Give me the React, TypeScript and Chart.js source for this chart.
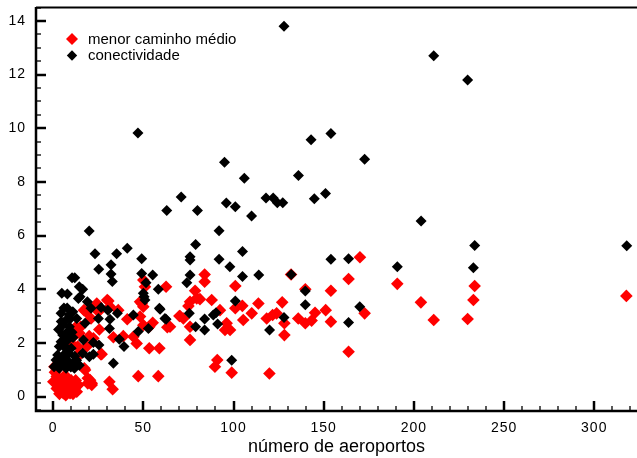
import { useEffect, useRef } from "react";
import { Chart, registerables } from "chart.js";

Chart.register(...registerables);

const FONT = "'Liberation Sans', Arial, Helvetica, sans-serif";

// [número de aeroportos, conectividade]
const conectividade: [number, number][] = [
  [128, 13.8], [211, 12.7], [229.8, 11.8], [154, 9.8], [143, 9.57], [172.7, 8.84],
  [47, 9.82], [95, 8.73], [106, 8.14], [136, 8.24], [71, 7.44], [63, 6.93],
  [80, 6.93], [96, 7.21], [101, 7.07], [110, 6.73], [118, 7.4], [122, 7.4],
  [124.3, 7.22], [127.3, 7.22], [144.8, 7.37], [151, 7.57], [92, 6.18], [204, 6.54],
  [233.7, 5.63], [318, 5.62], [105, 5.41], [92, 5.12], [98, 4.84], [154, 5.12],
  [163.8, 5.14], [190.8, 4.84], [233, 4.8], [105, 4.47], [114, 4.53], [132, 4.55],
  [139.8, 3.93], [139.8, 3.42], [101, 3.56], [170, 3.35], [128, 2.95], [84, 2.89],
  [84, 2.48], [88.8, 3.04], [90.3, 3.12], [91.2, 2.7], [120, 2.48], [163.8, 2.76],
  [99, 1.35], [20, 6.17], [79, 5.67], [23.2, 5.32], [35.2, 5.32], [41.1, 5.53],
  [49.1, 5.14], [75.9, 5.21], [75.9, 5.09], [32.1, 4.91], [25.3, 4.74], [32.1, 4.57],
  [32.8, 4.29], [10.5, 4.43], [12, 4.43], [49.1, 4.59], [55.2, 4.53], [51.5, 4.24],
  [75.9, 4.53], [74.1, 4.24], [14.5, 4.09], [16.4, 4.0], [58.3, 4.0], [4.8, 3.85],
  [7.9, 3.82], [14.9, 3.72], [50, 3.85], [50.4, 3.72], [14, 3.65], [19, 3.53],
  [21, 3.29], [26.6, 3.32], [30.3, 3.22], [35.6, 3.1], [25.1, 2.91], [31.5, 2.88],
  [10.9, 3.16], [13.1, 2.91], [17.7, 2.73], [31.2, 2.54], [36.7, 2.13], [39.3, 1.86],
  [16.8, 2.11], [22.3, 2.01], [25.4, 1.92], [20.1, 1.48], [22.3, 1.58], [33.4, 1.24],
  [50.9, 3.6], [58.9, 3.29], [62, 2.91], [47.2, 2.42], [44.5, 3.04], [75.5, 3.1],
  [79, 2.6], [59.3, 3.25], [62.6, 2.88], [52.8, 2.54],
  [4.4, 3.1], [9, 3.04], [7.2, 2.85], [5.3, 2.66], [9, 2.6], [8.1, 2.42],
  [5.3, 2.29], [4.4, 2.04], [8.1, 2.11], [3.4, 1.86], [6.5, 1.86], [2.5, 1.55],
  [5.8, 1.55], [8.7, 1.6], [1.6, 1.36], [5.3, 1.3], [8.7, 1.3], [11.7, 1.3],
  [14.5, 1.17], [0.5, 1.11], [3.4, 1.05], [7.2, 1.05], [11.8, 1.05], [16.4, 1.61],
  [6, 3.3], [10, 1.8], [12, 1.5], [7, 2.3], [10.5, 2.4], [6.5, 1.2], [9.5, 2.9], [11, 2.2],
  [2, 1.2], [4, 1.4], [6.5, 1.5], [3, 2.5], [6.2, 2.1], [7.5, 1.75], [9.8, 1.1],
  [13, 1.35], [4.5, 2.8], [7.8, 3.3],
];

// [número de aeroportos, menor caminho médio]
const menorCaminho: [number, number][] = [
  [170.1, 5.19], [84, 4.55], [84, 4.28], [131.9, 4.55], [163.8, 4.38], [190.8, 4.2],
  [233.7, 4.12], [317.8, 3.75], [101, 4.12], [139.8, 4.0], [154, 3.94], [233, 3.6],
  [203.9, 3.51], [81.4, 3.63], [87.9, 3.6], [127, 3.51], [113.8, 3.47], [104.9, 3.38],
  [101, 3.29], [92.5, 3.22], [110.1, 3.1], [105.4, 2.85], [151.1, 3.22], [145.2, 3.12],
  [172.7, 3.1], [118.4, 2.91], [121.7, 3.04], [123.9, 3.1], [135.9, 2.91], [139.8, 2.73],
  [143.3, 2.83], [128.2, 2.73], [154, 2.79], [211, 2.85], [229.8, 2.89], [96.2, 2.73],
  [95.3, 2.48], [98.1, 2.48], [128.2, 2.29], [163.8, 1.67], [91, 1.36], [89.7, 1.11],
  [99, 0.89], [119.9, 0.86], [62.6, 4.09], [70, 3.0], [30.6, 3.56], [31.5, 3.35],
  [48.2, 3.53], [50, 3.35], [25.1, 3.16], [36.1, 3.22], [41.1, 2.88], [48.2, 2.98],
  [55.2, 2.75], [63.3, 2.58], [53.3, 2.6], [50, 2.66], [25.6, 2.5], [33.4, 2.21],
  [38.9, 2.25], [44.5, 2.23], [46.3, 1.98], [53.3, 1.8], [58.9, 1.8], [22.3, 2.17],
  [26.9, 1.58], [47.2, 0.76], [58.3, 0.76], [31.2, 0.55], [33, 0.27], [21.4, 0.49],
  [78.7, 3.94], [79.6, 3.66], [75.9, 3.53], [75, 3.37], [70.3, 3.0], [72.2, 2.91],
  [75.9, 2.6], [75.9, 2.11], [64.8, 2.6], [50, 4.34], [50.9, 4.09], [49.1, 3.47],
  [18.2, 3.16], [21, 2.91], [12.7, 2.6], [14.6, 2.36], [10.9, 1.92], [13.6, 1.86],
  [14.6, 1.55], [17.3, 1.05], [19.2, 0.68], [19.2, 0.49], [0.7, 1.11], [2, 0.99],
  [17.7, 0.99], [20.5, 0.61], [21.4, 0.43], [13.1, 0.18], [9.4, 0.12], [5.7, 0.12],
  [2, 0.3], [0.1, 0.55], [14, 0.43], [17.1, 3.22], [24.2, 3.47], [30, 3.6],
  [15.3, 2.6], [20, 2.25], [11.2, 2.23], [18.6, 1.86], [14, 1.58], [26.4, 1.58],
  [3, 0.7], [5, 0.6], [7, 0.5], [9, 0.45], [11, 0.4], [4, 0.35], [6, 0.25],
  [8, 0.2], [10, 0.25], [12, 0.3], [3.5, 0.1], [7, 0.05], [11, 0.1], [2, 0.75],
  [6, 0.75], [4, 0.5], [8, 0.7], [10, 0.6], [12.5, 0.6], [1, 0.9],
];

const seriesLabels = ["menor caminho médio", "conectividade"];
const seriesColors = ["#ff0000", "#000000"];
const axisTitle = "número de aeroportos";
const xTicks = [0, 50, 100, 150, 200, 250, 300];
const yTicks = [0, 2, 4, 6, 8, 10, 12, 14];
const xMinorStep = 10;
const yMinorStep = 0.5;
const xRange = [-9.5, 323.7];
const yRange = [-0.54, 14.52];

const framePlugin = {
  id: "frame",
  afterDatasetsDraw(chart: any) {
    (chart.ctx as any).letterSpacing = "1px";
  },
  afterDraw(chart: any) {
    const { ctx, chartArea: a, scales } = chart;
    (ctx as any).letterSpacing = "0px";
    const xs = scales.x;
    const ys = scales.y;
    ctx.save();
    ctx.strokeStyle = "#000";
    ctx.lineCap = "butt";

    const yk0 = Math.ceil(ys.min / yMinorStep);
    const yk1 = Math.floor(ys.max / yMinorStep);
    for (let k = yk0; k <= yk1; k++) {
      const v = k * yMinorStep;
      const p = Math.round(ys.getPixelForValue(v));
      const major = yTicks.some((t) => Math.abs(t - v) < 1e-6);
      ctx.lineWidth = major ? 2.5 : 1.3;
      ctx.beginPath();
      ctx.moveTo(a.left, p);
      ctx.lineTo(a.left + (major ? 10 : 5), p);
      ctx.stroke();
    }
    const xk0 = Math.ceil(xs.min / xMinorStep);
    const xk1 = Math.floor(xs.max / xMinorStep);
    for (let k = xk0; k <= xk1; k++) {
      const v = k * xMinorStep;
      const p = Math.round(xs.getPixelForValue(v));
      const major = xTicks.some((t) => Math.abs(t - v) < 1e-6);
      ctx.lineWidth = major ? 2.5 : 1.3;
      ctx.beginPath();
      ctx.moveTo(p, a.bottom);
      ctx.lineTo(p, a.bottom - (major ? 10 : 5));
      ctx.stroke();
    }

    ctx.lineWidth = 2.5;
    ctx.beginPath();
    ctx.moveTo(a.left, a.top);
    ctx.lineTo(a.left, a.bottom);
    ctx.lineTo(chart.width, a.bottom);
    ctx.stroke();
    ctx.lineWidth = 2;
    ctx.beginPath();
    ctx.moveTo(a.left, a.top + 0.5);
    ctx.lineTo(chart.width, a.top + 0.5);
    ctx.stroke();

    const lx = a.left + 36;
    const rows = [a.top + 32, a.top + 48.5];
    const sizes = [6, 5.2];
    ctx.font = `15px ${FONT}`;
    ctx.textBaseline = "middle";
    ctx.textAlign = "left";
    rows.forEach((y, i) => {
      const r = sizes[i];
      ctx.fillStyle = seriesColors[i];
      ctx.beginPath();
      ctx.moveTo(lx, y - r);
      ctx.lineTo(lx + r, y);
      ctx.lineTo(lx, y + r);
      ctx.lineTo(lx - r, y);
      ctx.closePath();
      ctx.fill();
      ctx.fillStyle = "#000";
      ctx.fillText(seriesLabels[i], lx + 16, y + 0.5);
    });
    ctx.restore();
  },
};

export default function App() {
  const ref = useRef<HTMLCanvasElement | null>(null);

  useEffect(() => {
    if (!ref.current) return;
    const chart = new Chart(ref.current, {
      type: "scatter",
      data: {
        datasets: [
          {
            label: seriesLabels[1],
            data: conectividade.map(([x, y]) => ({ x, y })),
            backgroundColor: seriesColors[1],
            borderWidth: 0,
            pointStyle: "rectRot",
            pointRadius: 5.5,
          },
          {
            label: seriesLabels[0],
            data: menorCaminho.map(([x, y]) => ({ x, y })),
            backgroundColor: seriesColors[0],
            borderWidth: 0,
            pointStyle: "rectRot",
            pointRadius: 6.3,
          },
        ],
      },
      options: {
        responsive: false,
        animation: false,
        events: [],
        layout: { autoPadding: false, padding: { top: 7, left: 0, right: 0, bottom: 0 } },
        plugins: {
          legend: { display: false },
          tooltip: { enabled: false },
        },
        scales: {
          x: {
            type: "linear",
            min: xRange[0],
            max: xRange[1],
            afterBuildTicks: (s: any) => {
              s.ticks = xTicks.map((value) => ({ value }));
            },
            afterFit: (s: any) => {
              s.height = 47;
              s.paddingLeft = 0;
              s.paddingRight = 0;
            },
            grid: { display: false, drawTicks: false },
            border: { display: false },
            ticks: {
              padding: 9,
              color: "#000",
              font: { family: FONT, size: 14 },
              maxRotation: 0,
              autoSkip: false,
              z: 1,
            },
            title: {
              display: true,
              text: axisTitle,
              color: "#000",
              font: { family: FONT, size: 18 },
              padding: { top: 0, bottom: 0 },
            },
          },
          y: {
            type: "linear",
            min: yRange[0],
            max: yRange[1],
            afterBuildTicks: (s: any) => {
              s.ticks = yTicks.map((value) => ({ value }));
            },
            afterFit: (s: any) => {
              s.width = 36;
              s.paddingTop = 0;
              s.paddingBottom = 0;
            },
            grid: { display: false, drawTicks: false },
            border: { display: false },
            ticks: {
              padding: 10,
              color: "#000",
              font: { family: FONT, size: 14 },
              autoSkip: false,
              z: 1,
            },
          },
        },
      },
      plugins: [framePlugin],
    });
    return () => chart.destroy();
  }, []);

  return (
    <div style={{ position: "absolute", left: 0, top: 0, width: 637, height: 458, background: "#fff" }}>
      <canvas ref={ref} width={637} height={458} style={{ display: "block" }} />
    </div>
  );
}
